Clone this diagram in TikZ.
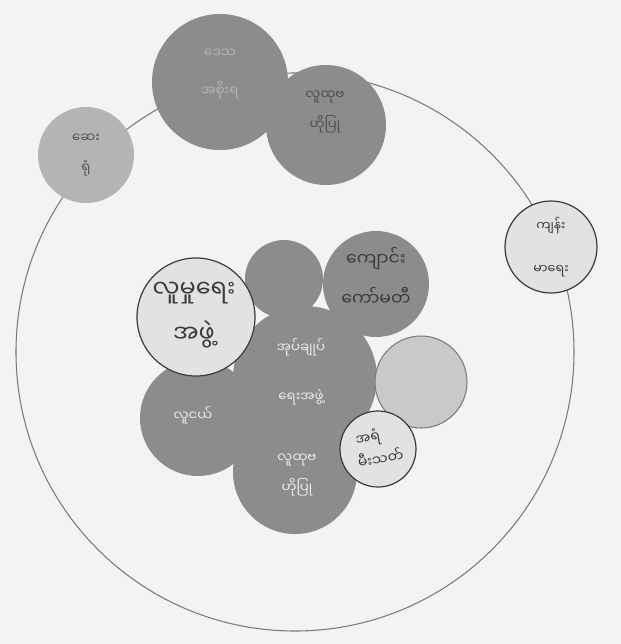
\documentclass[tikz,border=0pt]{standalone}
\usepackage{fontspec}
\newfontfamily\mmfont[Script=Myanmar]{Noto Sans Myanmar UI}
\usetikzlibrary{positioning}

\definecolor{paper}{HTML}{F3F3F1}
\definecolor{ringgray}{HTML}{7A7A7A}
\definecolor{discdark}{HTML}{8C8C8C}
\definecolor{discmid}{HTML}{B4B4B4}
\definecolor{disclight}{HTML}{C9C9C9}
\definecolor{discpale}{HTML}{E2E2E0}
\definecolor{inkdark}{HTML}{3A3A3A}
\definecolor{inklight}{HTML}{EDEDED}

\tikzset{
  ring/.style={draw=ringgray, line width=0.8},
  darkdisc/.style={fill=discdark},
  middisc/.style={fill=discmid},
  lightdisc/.style={fill=disclight, draw=ringgray, line width=0.8},
  paledisc/.style={fill=discpale, draw=inkdark, line width=0.9},
  lbl/.style={inner sep=0.75pt, align=center, text=inklight},
  darklbl/.style={inner sep=0.75pt, align=center, text=inkdark},
}

\begin{document}
\begin{tikzpicture}[x=0.75pt,y=0.75pt,yscale=-1,xscale=1]
\useasboundingbox (0,0) rectangle (621,644);
\fill[paper] (0,0) rectangle (621,644);

%Shape: Circle [village]
\draw[ring] (295,352) circle [radius=279];

%Shape: Circle [outside the village]
\fill[middisc] (86,155) circle [radius=48];
\fill[darkdisc] (220,82) circle [radius=68];
\fill[darkdisc] (326,125) circle [radius=60];
\draw[paledisc] (551,247) circle [radius=46];

%Shape: Circle [inside the village]
\fill[darkdisc] (198,418) circle [radius=58];
\fill[darkdisc] (305,378) circle [radius=72];
\fill[darkdisc] (295,472) circle [radius=62];
\fill[darkdisc] (284,279) circle [radius=39];
\fill[darkdisc] (376,284) circle [radius=53];
\draw[paledisc] (196,317) circle [radius=59];
\draw[lightdisc] (421,382) circle [radius=46];
\draw[paledisc] (378,449) circle [radius=38];

% Text Node
\node (hosp) at (86,155) [darklbl, text=discdark!60!black, font=\mmfont\fontsize{10}{22}\selectfont] {ဆေး\\ရုံ};
% Text Node
\node (govt) at (220,74) [lbl, text=discmid, font=\mmfont\fontsize{10}{28}\selectfont] {ဒေသ\\အစိုးရ};
% Text Node
\node (cbotop) at (325,112) [darklbl, text=discdark!55!black, font=\mmfont\fontsize{10}{23}\selectfont] {လူထုဗ\\ဟိုပြု};
% Text Node
\node (health) at (551,247) [darklbl, font=\mmfont\fontsize{9.5}{32}\selectfont] {ကျန်း\\မာရေး};
% Text Node
\node (social) at (194,315) [darklbl, font=\mmfont\fontsize{18}{34}\selectfont] {လူမှုရေး\\အဖွဲ့};
% Text Node
\node (school) at (376,276) [darklbl, font=\mmfont\fontsize{13}{30}\selectfont] {ကျောင်း\\ကော်မတီ};
% Text Node
\node (admin) at (301,372) [lbl, font=\mmfont\fontsize{10}{37}\selectfont] {အုပ်ချုပ်\\ရေးအဖွဲ့};
% Text Node
\node (youth) at (193,415) [lbl, font=\mmfont\fontsize{10}{24}\selectfont] {လူငယ်};
% Text Node
\node (cbo) at (297,475) [lbl, font=\mmfont\fontsize{10}{23}\selectfont] {လူထုဗ\\ဟိုပြု};
% Text Node
\node (fire) at (368,439) [darklbl, rotate=10, text height=7pt, text depth=1pt, font=\mmfont\fontsize{10.5}{12}\selectfont] {အရံ};
\node (fireb) at (381,461) [darklbl, rotate=10, text height=7pt, text depth=1pt, font=\mmfont\fontsize{10.5}{12}\selectfont] {မီးသတ်};

\end{tikzpicture}
\end{document}
